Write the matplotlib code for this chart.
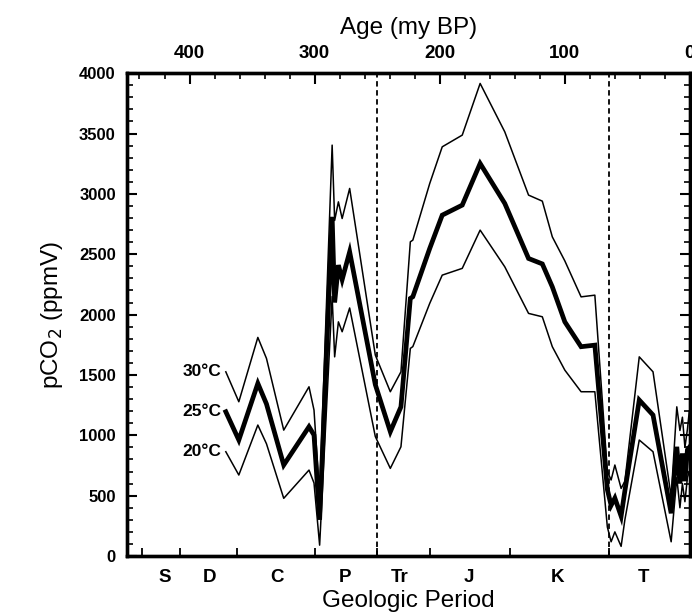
import matplotlib
matplotlib.use('Agg')
import matplotlib.pyplot as plt
from matplotlib.ticker import MultipleLocator, FixedLocator

plt.rcParams['font.family'] = ['Liberation Sans', 'DejaVu Sans']

# ---- data ----
age = [371, 360.6, 345.4, 338.5, 324.7, 304.5, 300.5, 296, 286, 284, 281, 278, 272,
       251.5, 239.5, 231, 223.5, 221.5, 208, 198, 182, 167.7, 148, 129, 118, 110, 100,
       87, 76, 66, 63, 60, 55, 52, 40.5, 29.5, 15, 10.5, 8, 6, 4, 2, 0.5]
co2_30 = [1526, 1278, 1811, 1637, 1043, 1402, 1209, 500, 3404, 2780, 2934, 2796, 3045,
          1665, 1361, 1526, 2603, 2617, 3086, 3390, 3487, 3915, 3514, 2990, 2940, 2644, 2445,
          2147, 2161, 700, 630, 754, 560, 620, 1650, 1526, 492, 1236, 1040, 1150, 900, 1050, 1200]
co2_25 = [1195, 961, 1430, 1260, 754, 1071, 1002, 300, 2810, 2100, 2410, 2290, 2520,
          1420, 1030, 1236, 2134, 2148, 2548, 2824, 2907, 3252, 2921, 2465, 2420, 2230, 1940,
          1734, 1747, 550, 420, 480, 330, 540, 1292, 1168, 354, 905, 600, 850, 620, 880, 900]
co2_20 = [864, 671, 1085, 930, 478, 712, 605, 90, 2150, 1650, 1940, 1858, 2055,
          990, 726, 905, 1720, 1735, 2093, 2327, 2383, 2700, 2396, 2010, 1982, 1734, 1540,
          1361, 1361, 240, 118, 200, 80, 300, 961, 864, 118, 650, 400, 600, 450, 650, 700]

temp_labels = ['30°C', '25°C', '20°C']
periods = ['S', 'D', 'C', 'P', 'Tr', 'J', 'K', 'T']
period_centers = [420, 384, 330, 275.5, 232, 177, 106, 37]
period_bounds = [438, 408, 362, 300, 250, 208, 144, 65]
dashed_ages = [250, 65]
top_ticks = [400, 300, 200, 100, 0]

# ---- figure ----
fig = plt.figure(figsize=(6.92, 6.15), dpi=100)
ax = fig.add_axes([0.1835, 0.0959, 0.8135, 0.7851])

ax.plot(age, co2_30, color='black', lw=1.1)
ax.plot(age, co2_25, color='black', lw=3.4, solid_joinstyle='miter')
ax.plot(age, co2_20, color='black', lw=1.1)

for a in dashed_ages:
    ax.axvline(a, color='black', lw=1.3, linestyle=(0, (3, 2)))

ax.set_xlim(450, 0)
ax.set_ylim(0, 4000)

# temperature labels next to curve starts
for lab, val in zip(temp_labels, [co2_30[0], co2_25[0], co2_20[0]]):
    ax.annotate(lab, xy=(age[0], val), xytext=(-3, 0), textcoords='offset points',
                ha='right', va='center', fontsize=12.5, fontweight='bold')

# y axis
ax.yaxis.set_major_locator(MultipleLocator(500))
ax.yaxis.set_minor_locator(MultipleLocator(100))
ax.tick_params(axis='y', which='both', direction='in', left=True, right=True)
ax.tick_params(axis='y', which='major', length=7, width=1.5, pad=8, labelsize=12)
ax.tick_params(axis='y', which='minor', length=4, width=1.2)
for t in ax.get_yticklabels():
    t.set_fontweight('bold')
ax.set_ylabel('pCO$_2$ (ppmV)', fontsize=17.5, labelpad=10)

# bottom axis: geologic periods
ax.set_xticks(period_centers)
ax.set_xticklabels(periods, fontsize=13.5, fontweight='bold')
ax.tick_params(axis='x', which='major', length=0, pad=9)
ax.xaxis.set_minor_locator(FixedLocator(period_bounds))
ax.tick_params(axis='x', which='minor', direction='in', length=6, width=1.3)
ax.set_xlabel('Geologic Period', fontsize=17.5, labelpad=3)

# top axis: age
axt = ax.twiny()
axt.set_xlim(ax.get_xlim())
axt.set_xticks(top_ticks)
axt.set_xticklabels([str(v) for v in top_ticks], fontsize=13.5, fontweight='bold')
axt.xaxis.set_minor_locator(MultipleLocator(20))
axt.tick_params(axis='x', which='major', direction='in', length=8, width=1.5, pad=8)
axt.tick_params(axis='x', which='minor', direction='in', length=4, width=1.2)
axt.set_xlabel('Age (my BP)', fontsize=17.5, labelpad=8)

for a_ in (ax, axt):
    for s in a_.spines.values():
        s.set_linewidth(2.4)

fig.savefig('out.png', dpi=100)
